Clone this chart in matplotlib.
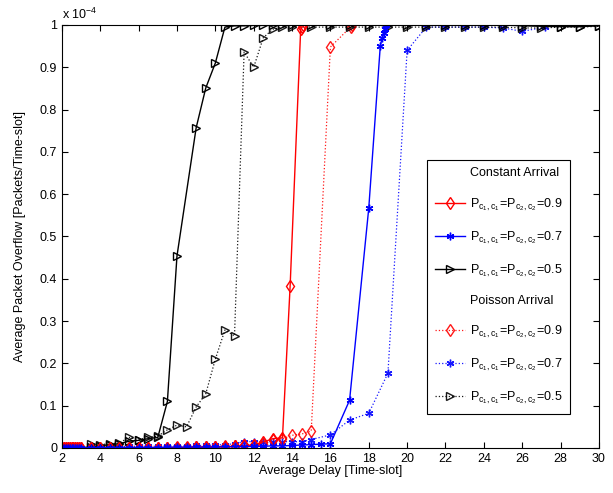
import numpy as np
import matplotlib
matplotlib.use("Agg")
import matplotlib.pyplot as plt
from matplotlib.lines import Line2D

plt.rcParams['font.family'] = ['Liberation Sans', 'DejaVu Sans']
plt.rcParams['mathtext.fontset'] = 'custom'
plt.rcParams['mathtext.rm'] = 'Liberation Sans'
plt.rcParams['mathtext.it'] = 'Liberation Sans'
plt.rcParams['mathtext.bf'] = 'Liberation Sans'

# ---------------- data (overflow in units of 1e-4) ----------------
low_x = [2.0, 2.1, 2.2, 2.3, 2.4, 2.5, 2.6, 2.7, 2.8, 2.9, 3.0]
mid_x = [3.5, 4.0, 4.5, 5.0, 5.5, 6.0, 6.5, 7.0, 7.5, 8.0, 8.5, 9.0, 9.5,
         10.0, 10.5, 11.0, 11.5, 12.0, 12.5, 13.0, 13.5]

# Constant arrival, P=0.9
c09_x = low_x + mid_x + [13.9, 14.45, 14.5, 14.55]
c09_y = [0.0] * 11 + [0.001, 0.001, 0.001, 0.001, 0.001, 0.001, 0.001, 0.001,
                      0.001, 0.001, 0.001, 0.002, 0.002, 0.003, 0.003, 0.004,
                      0.006, 0.007, 0.014, 0.022, 0.024] + [0.383, 0.99, 0.995, 1.0]

# Constant arrival, P=0.7
c07_x = low_x + mid_x + [14.0, 14.5, 15.0, 15.5, 16.0, 17.0, 18.0,
                         18.6, 18.7, 18.8, 18.85, 18.9]
c07_y = [0.0] * 11 + [0.001, 0.001, 0.001, 0.001, 0.001, 0.001, 0.001, 0.001,
                      0.002, 0.002, 0.002, 0.002, 0.002, 0.002, 0.003, 0.003,
                      0.003, 0.004, 0.004, 0.005, 0.005] + \
        [0.006, 0.007, 0.008, 0.009, 0.01, 0.113, 0.567,
         0.95, 0.97, 0.98, 0.99, 1.0]

# Constant arrival, P=0.5
c05_x = low_x + [3.5, 4.0, 4.5, 5.0, 5.5, 6.0, 6.5, 7.0, 7.5, 8.0, 9.0, 9.5,
                 10.0, 10.5, 11.0, 11.5, 12.0, 12.5, 13.0, 13.5, 14.0,
                 15, 16, 17, 18, 19, 20, 21, 22, 23, 24, 25, 26, 27, 28, 29, 30]
c05_y = [0.0] * 11 + [0.003, 0.005, 0.008, 0.01, 0.016, 0.018, 0.022, 0.025,
                      0.11, 0.454, 0.757, 0.851, 0.91, 0.995, 0.998, 0.998,
                      0.999, 0.999, 1.0, 1.0, 1.0,
                      1.0, 1.0, 1.0, 1.0, 1.0, 1.0, 1.0, 1.0, 1.0, 1.0, 1.0,
                      0.998, 0.997, 0.996, 0.996, 0.998]

# Poisson arrival, P=0.9
p09_x = low_x + mid_x + [14.0, 14.5, 15.0, 16.0, 17.05, 17.1]
p09_y = [0.0] * 11 + [0.001, 0.001, 0.001, 0.001, 0.001, 0.001, 0.001, 0.001,
                      0.001, 0.002, 0.002, 0.002, 0.003, 0.003, 0.004, 0.005,
                      0.006, 0.008, 0.01, 0.018, 0.022] + \
        [0.03, 0.033, 0.04, 0.948, 0.995, 1.0]

# Poisson arrival, P=0.7
p07_x = mid_x + [14.0, 14.5, 15.0, 16.0, 17.0, 18.0, 19.0, 20.0,
                 21, 22, 23, 24, 25, 26, 27.2]
p07_y = [0.003, 0.003, 0.003, 0.003, 0.004, 0.004, 0.004, 0.004, 0.005,
         0.005, 0.005, 0.006, 0.006, 0.007, 0.008, 0.01, 0.015, 0.015,
         0.015, 0.015, 0.015] + \
        [0.015, 0.015, 0.02, 0.031, 0.066, 0.082, 0.177, 0.94,
         0.995, 0.995, 0.995, 0.995, 0.993, 0.985, 0.995]

# Poisson arrival, P=0.5
p05_x = [3.5, 4.0, 4.5, 5.0, 5.5, 6.0, 6.5, 7.0, 7.5, 8.0, 8.5, 9.0, 9.5,
         10.0, 10.5, 11.0, 11.5, 12.0, 12.5, 13.0, 13.5,
         14, 15, 16, 17, 18, 19, 20, 21, 22, 23, 24, 25, 26, 27, 28, 29, 30]
p05_y = [0.01, 0.008, 0.01, 0.012, 0.025, 0.02, 0.025, 0.028, 0.043, 0.054,
         0.05, 0.097, 0.128, 0.21, 0.279, 0.265, 0.936, 0.90, 0.97, 0.99,
         0.995,
         0.995, 0.995, 0.995, 0.995, 0.995, 0.995, 0.995, 0.995, 0.995,
         0.995, 0.995, 0.995, 0.993, 0.993, 0.995, 0.995, 0.997]

xticks = list(range(2, 31, 2))
yticks = [0, 0.1, 0.2, 0.3, 0.4, 0.5, 0.6, 0.7, 0.8, 0.9, 1]
ytick_labels = ['0', '0.1', '0.2', '0.3', '0.4', '0.5', '0.6', '0.7', '0.8', '0.9', '1']

# ---------------- plot ----------------
fig = plt.figure(figsize=(6.13, 4.93), dpi=100)
ax = fig.add_axes([0.101, 0.0913, 0.876, 0.858])

asterisk = (6, 2, 0)
ms = 5.5
dot_kw = dict(linestyle=':', linewidth=0.9)

ax.plot(p07_x, p07_y, color='#0000ff', marker=asterisk, markersize=ms, alpha=0.9, **dot_kw)
ax.plot(p09_x, p09_y, color='#ff0000', marker='d', markerfacecolor='none', markersize=ms + 1, alpha=0.9, **dot_kw)
ax.plot(p05_x, p05_y, color='black', marker='>', markerfacecolor='none', markersize=ms, alpha=0.9, **dot_kw)
ax.plot(c05_x, c05_y, color='black', marker='>', markerfacecolor='none', markersize=ms, linewidth=1.0)
ax.plot(c09_x, c09_y, color='#ff0000', marker='d', markerfacecolor='none', markersize=ms + 1, linewidth=1.0)
ax.plot(c07_x, c07_y, color='#0000ff', marker=asterisk, markersize=ms, linewidth=1.0)

ax.set_xlim(2, 30)
ax.set_ylim(0, 1)
ax.set_xticks(xticks)
ax.set_yticks(yticks)
ax.set_yticklabels(ytick_labels)
ax.tick_params(direction='in', top=True, right=True, labelsize=9, length=4)
for s in ax.spines.values():
    s.set_linewidth(0.8)

ax.set_xlabel('Average Delay [Time-slot]', fontsize=9, labelpad=0)
ax.set_ylabel('Average Packet Overflow [Packets/Time-slot]', fontsize=9, labelpad=10)
ax.text(0.0, 1.008, r'x 10$^{-4}$', transform=ax.transAxes, fontsize=9,
        ha='left', va='bottom')

lab = r'$\mathrm{P}_{\mathrm{c}_1,\mathrm{c}_1}\!=\!\mathrm{P}_{\mathrm{c}_2,\mathrm{c}_2}\!=\!%s$'
blank = Line2D([], [], linestyle='none', marker='none')
handles = [
    blank,
    Line2D([], [], color='#ff0000', marker='d', markerfacecolor='none', markersize=ms + 1, linewidth=1.0),
    Line2D([], [], color='#0000ff', marker=asterisk, markersize=ms, linewidth=1.0),
    Line2D([], [], color='black', marker='>', markerfacecolor='none', markersize=ms, linewidth=1.0),
    blank,
    Line2D([], [], color='#ff0000', marker='d', markerfacecolor='none', markersize=ms + 1, alpha=0.9, **dot_kw),
    Line2D([], [], color='#0000ff', marker=asterisk, markersize=ms, alpha=0.9, **dot_kw),
    Line2D([], [], color='black', marker='>', markerfacecolor='none', markersize=ms, alpha=0.9, **dot_kw),
]
labels = ['Constant Arrival', lab % '0.9', lab % '0.7', lab % '0.5',
          'Poisson Arrival', lab % '0.9', lab % '0.7', lab % '0.5']
leg = ax.legend(handles, labels, loc='upper left', bbox_to_anchor=(0.68, 0.681),
                fontsize=9, frameon=True, fancybox=False, framealpha=1,
                edgecolor='black', handlelength=2.4, handletextpad=0.4,
                labelspacing=1.32, borderpad=0.6, borderaxespad=0)
leg.get_frame().set_linewidth(0.8)

fig.savefig('out.png', dpi=100)
